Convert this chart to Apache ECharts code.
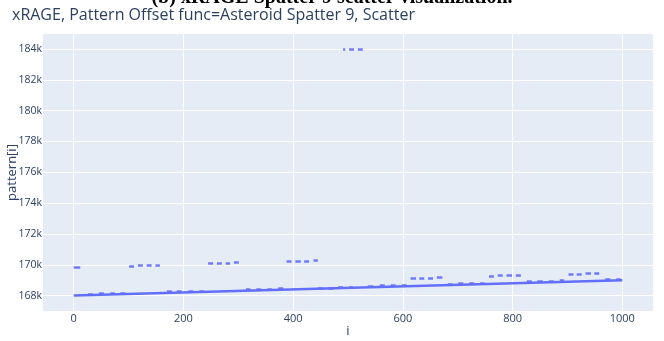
<!DOCTYPE html>
<html>
<head>
<meta charset="utf-8">
<script src="https://cdn.jsdelivr.net/npm/echarts@6/dist/echarts.min.js"></script>
<style>
  html, body { margin: 0; padding: 0; background: #ffffff; }
  #chart { width: 664px; height: 341px; }
</style>
</head>
<body>
<div id="chart"></div>
<script>
// Axis tick positions
const xTicks = [0, 200, 400, 600, 800, 1000];
const yTicks = [168000, 170000, 172000, 174000, 176000, 178000, 180000, 182000, 184000];

// Underlying linear ramp of pattern[i]
const baseLine = [[0, 168000], [1000, 169000]];

// Short runs of points sitting just above the ramp: [iStart, iEnd, value]
const nearRuns = [
  [26, 35, 168110], [46, 55, 168130], [67, 75, 168150], [85, 94, 168170],
  [170, 179, 168254], [188, 197, 168272], [209, 218, 168293], [229, 237, 168313],
  [314, 322, 168398], [333, 342, 168418], [353, 361, 168437], [373, 382, 168457],
  [445, 454, 168490], [464, 473, 168508], [482, 491, 168527], [502, 509, 168546],
  [536, 546, 168621], [558, 567, 168642], [578, 587, 168662], [598, 607, 168682],
  [682, 691, 168766], [701, 710, 168786], [721, 730, 168805], [741, 749, 168825],
  [826, 835, 168910], [845, 855, 168930], [866, 875, 168950], [886, 894, 168970],
  [969, 978, 169053], [989, 997, 169073]
];

// Offset runs well above the ramp: [iStart, iEnd, value]
const offsetRuns = [
  [0, 12, 169820],
  [101, 110, 169920], [117, 126, 169940], [133, 142, 169960], [149, 157, 169985],
  [245, 254, 170070], [261, 270, 170090], [277, 285, 170115], [292, 301, 170135],
  [388, 397, 170200], [404, 414, 170220], [420, 429, 170245], [437, 445, 170265],
  [491, 495, 183960], [502, 511, 183970], [518, 527, 183980],
  [614, 624, 169100], [630, 639, 169120], [646, 655, 169145], [662, 672, 169165],
  [757, 766, 169280], [773, 782, 169300], [789, 799, 169315], [806, 815, 169335],
  [902, 911, 169390], [917, 926, 169415], [933, 943, 169440], [949, 958, 169465]
];

const ACCENT = '#636efa';
const INK = '#2a3f5f';
const FONT = '"Open Sans", "DejaVu Sans", sans-serif';

const toSegments = runs => runs.map(r => ({ coords: [[r[0], r[2]], [r[1], r[2]]] }));

const chart = echarts.init(document.getElementById('chart'), null, { renderer: 'canvas' });

chart.setOption({
  animation: false,
  backgroundColor: '#ffffff',
  title: {
    text: 'xRAGE, Pattern Offset func=Asteroid Spatter 9, Scatter',
    left: 7,
    top: 2,
    textStyle: { fontFamily: FONT, fontSize: 16, fontWeight: 'normal', color: INK }
  },
  graphic: [{
    type: 'text',
    left: 'center',
    top: -12,
    style: {
      text: '(b) xRAGE Spatter 9 scatter visualization.',
      font: 'bold 20px "Liberation Serif", "DejaVu Serif", serif',
      fill: '#000000'
    }
  }],
  grid: {
    left: 43, right: 11, top: 34, bottom: 30,
    outerBoundsMode: 'none',
    containLabel: false,
    show: true, backgroundColor: '#e5ecf6', borderWidth: 0
  },
  xAxis: {
    type: 'value',
    min: -56, max: 1056,
    name: 'i',
    nameLocation: 'middle',
    nameGap: 14,
    nameMoveOverlap: false,
    nameTextStyle: { fontFamily: FONT, fontSize: 13, color: INK },
    axisLine: { show: false },
    axisTick: { show: false, customValues: xTicks },
    axisLabel: {
      customValues: xTicks, margin: 2, fontFamily: FONT, fontSize: 11, color: INK,
      formatter: v => String(v)
    },
    splitLine: { show: true, lineStyle: { color: '#ffffff', width: 1 } }
  },
  yAxis: {
    type: 'value',
    min: 167000, max: 184970,
    name: 'pattern[i]',
    nameLocation: 'middle',
    nameGap: 24,
    nameRotate: 90,
    nameMoveOverlap: false,
    nameTextStyle: { fontFamily: FONT, fontSize: 13, color: INK },
    axisLine: { show: false },
    axisTick: { show: false, customValues: yTicks },
    axisLabel: {
      customValues: yTicks, margin: 1, fontFamily: FONT, fontSize: 10.5, color: INK,
      formatter: v => (v / 1000) + 'k'
    },
    splitLine: { show: true, lineStyle: { color: '#ffffff', width: 1 } }
  },
  series: [
    {
      type: 'line',
      data: baseLine,
      showSymbol: false,
      lineStyle: { color: ACCENT, width: 2.5 },
      z: 3
    },
    {
      type: 'lines',
      coordinateSystem: 'cartesian2d',
      data: toSegments(nearRuns),
      lineStyle: { color: ACCENT, width: 2.5, opacity: 0.9, cap: 'butt' },
      z: 4
    },
    {
      type: 'lines',
      coordinateSystem: 'cartesian2d',
      data: toSegments(offsetRuns),
      lineStyle: { color: ACCENT, width: 2.5, opacity: 0.9, cap: 'butt' },
      z: 4
    }
  ]
});
</script>
</body>
</html>
